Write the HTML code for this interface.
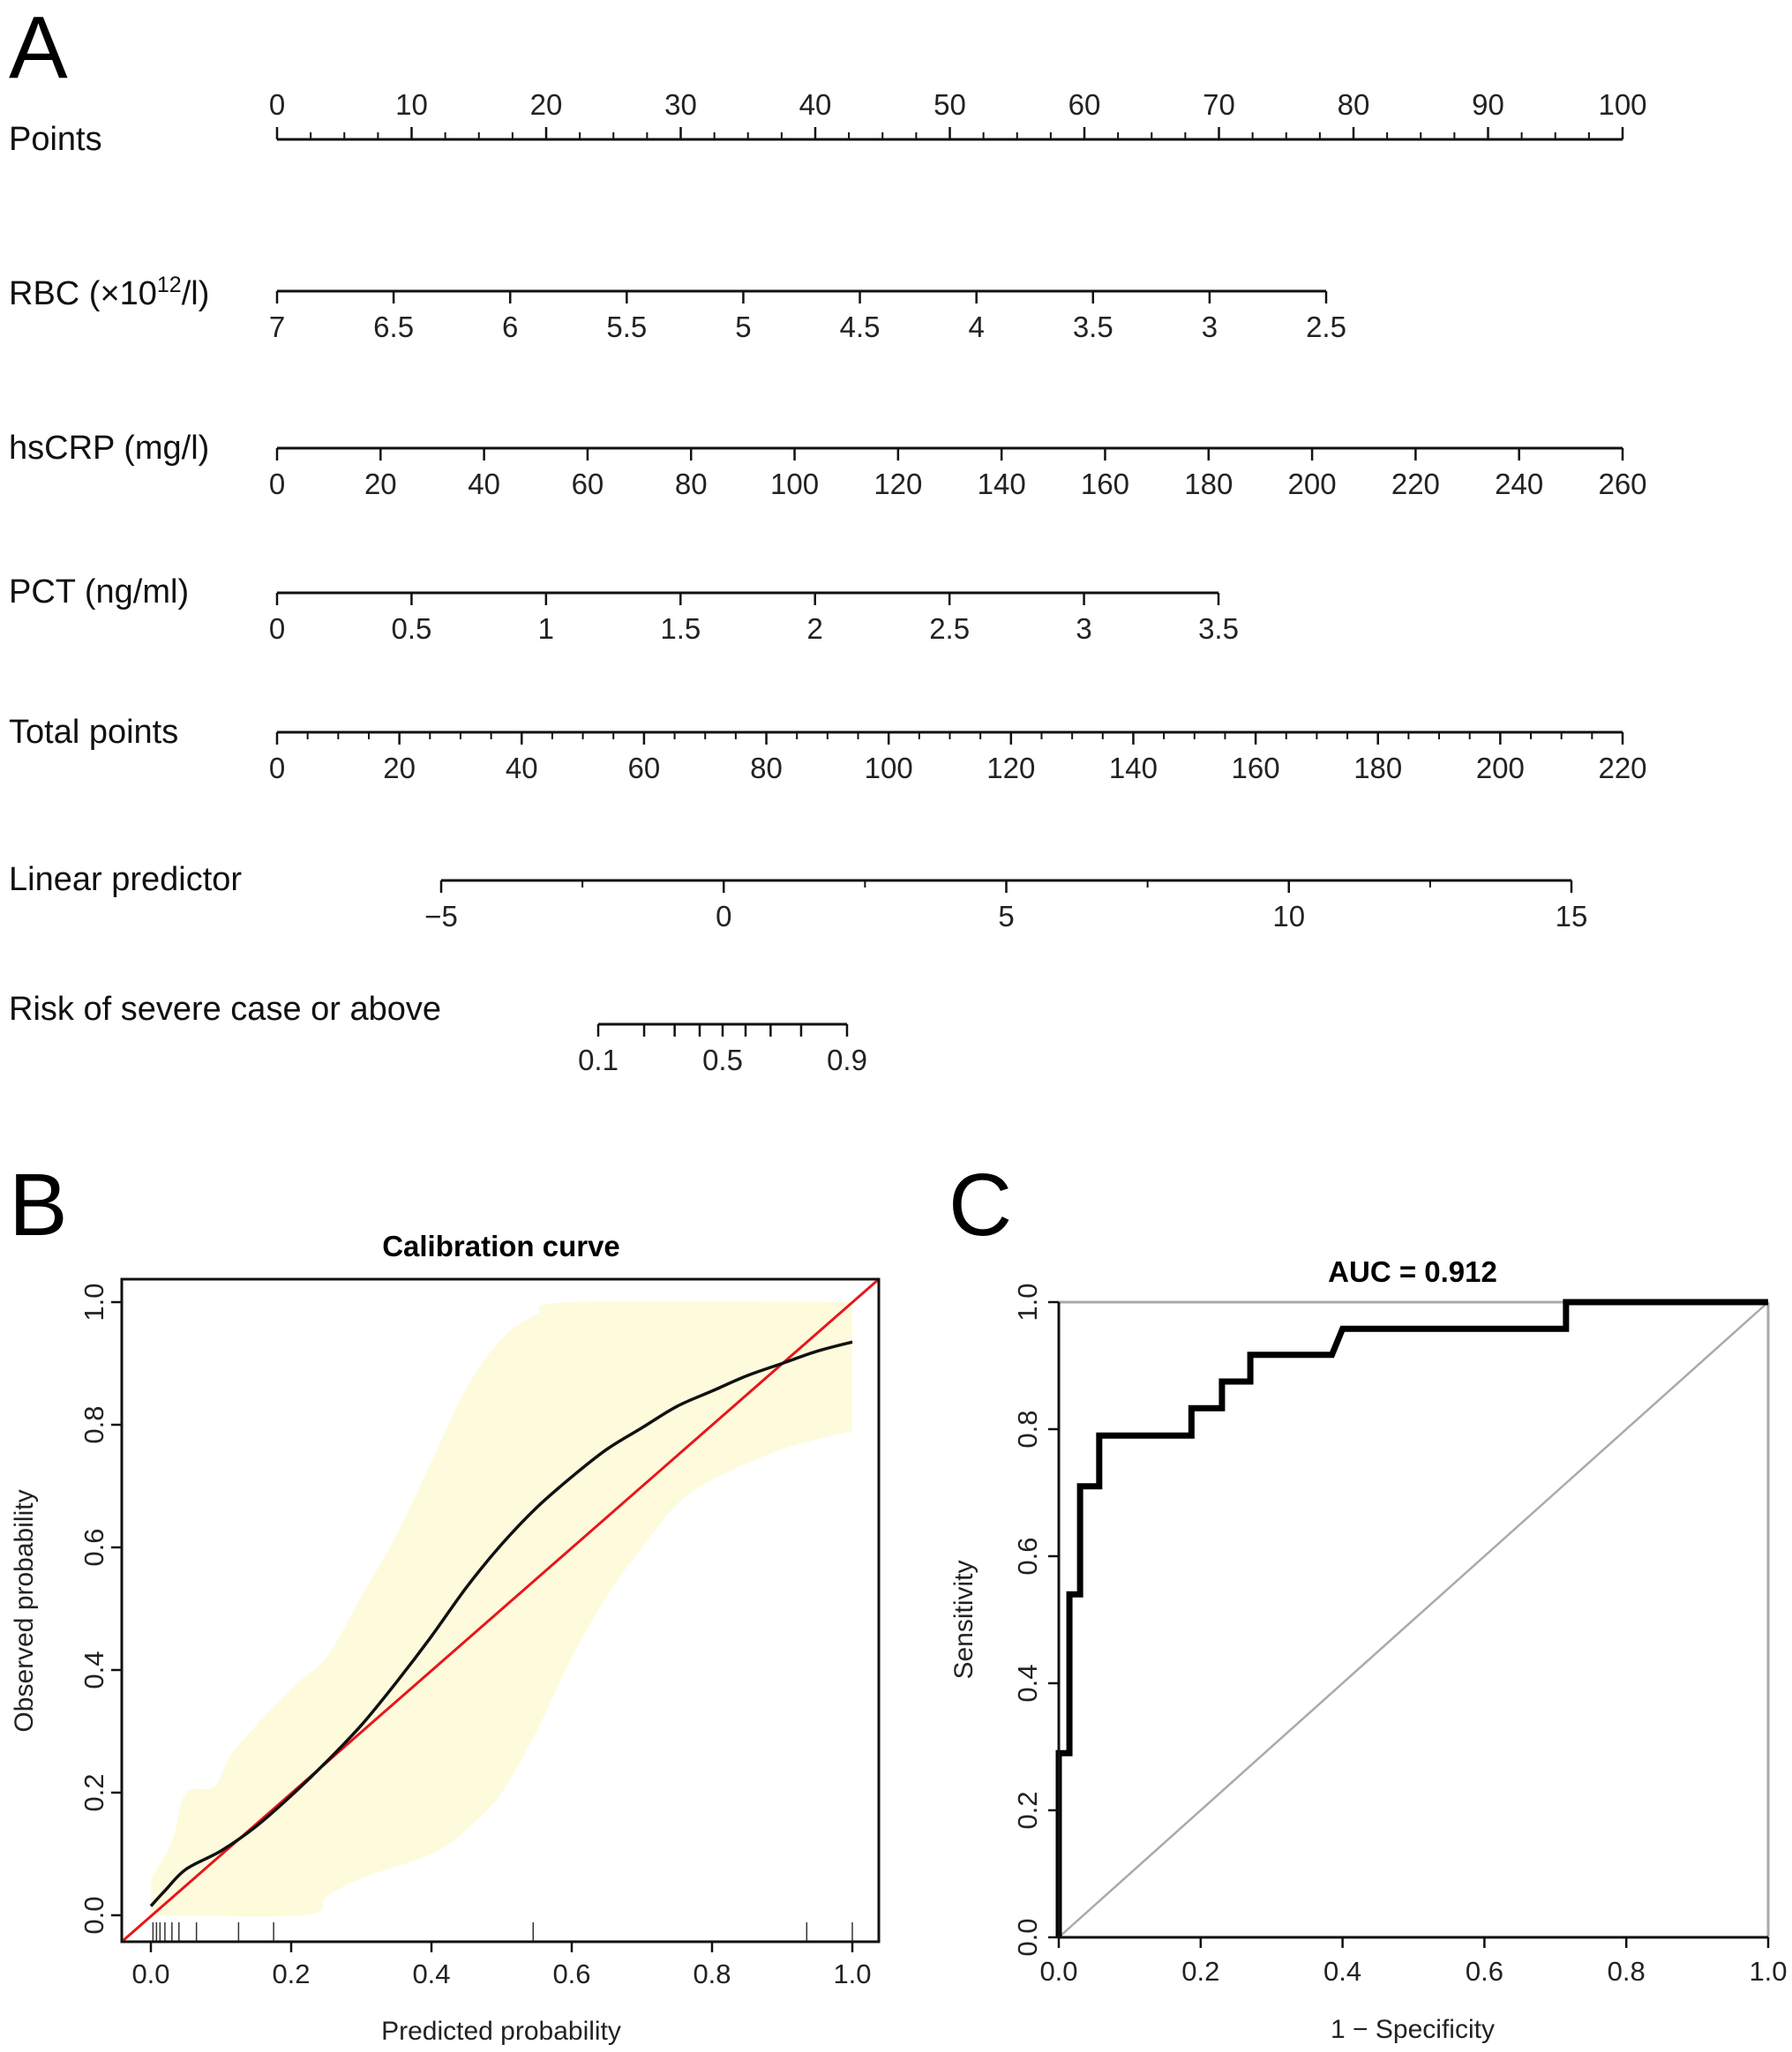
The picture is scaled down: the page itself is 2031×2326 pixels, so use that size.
<!DOCTYPE html>
<html><head><meta charset="utf-8"><style>
html,body{margin:0;padding:0;background:#fff}
svg{display:block;font-family:"Liberation Sans",Arial,sans-serif}
</style></head><body>
<svg id="fig" width="2031" height="2326" viewBox="0 0 2031 2326">
<text x="10" y="88" font-size="100">A</text>
<text x="10" y="1400" font-size="100">B</text>
<text x="1075" y="1400" font-size="100">C</text>
<g id="nomo"></g>
<g id="calib"></g>
<g id="roc"></g>
</svg>
<script>
// ---------- Nomogram data ----------
const pointsTicks=[0,10,20,30,40,50,60,70,80,90,100];
const rbcTicks=[7,6.5,6,5.5,5,4.5,4,3.5,3,2.5];
const crpTicks=[0,20,40,60,80,100,120,140,160,180,200,220,240,260];
const pctTicks=[0,0.5,1,1.5,2,2.5,3,3.5];
const totalTicks=[0,20,40,60,80,100,120,140,160,180,200,220];
const lpTicks=[-5,0,5,10,15];
const riskTicks=[0.1,0.2,0.3,0.4,0.5,0.6,0.7,0.8,0.9];
const riskLabels=["0.1","","","","0.5","","","","0.9"];
// ---------- Calibration data ----------
const calX=[0,0.02,0.05,0.1,0.15,0.2,0.25,0.3,0.35,0.4,0.45,0.5,0.55,0.6,0.65,0.7,0.75,0.8,0.85,0.9,0.95,1.0];
const calY=[0.015,0.04,0.075,0.105,0.145,0.195,0.25,0.31,0.38,0.455,0.535,0.605,0.665,0.715,0.76,0.795,0.83,0.855,0.88,0.9,0.92,0.935];
const bandUpX=[0,0.03,0.05,0.09,0.12,0.2,0.25,0.3,0.35,0.4,0.45,0.5,0.55,0.6,1.0];
const bandUpY=[0.06,0.12,0.2,0.21,0.27,0.37,0.42,0.52,0.62,0.74,0.86,0.94,0.98,1.0,1.0];
const bandLoX=[0,0.22,0.25,0.3,0.4,0.45,0.5,0.55,0.6,0.65,0.7,0.75,0.8,0.9,1.0];
const bandLoY=[0,0,0.03,0.06,0.1,0.14,0.2,0.3,0.42,0.52,0.6,0.67,0.71,0.76,0.79];
const rugX=[0.003,0.008,0.013,0.02,0.03,0.04,0.065,0.125,0.175,0.545,0.935,1.0];
const axisTicks=[0,0.2,0.4,0.6,0.8,1.0];
const axisLabels=["0.0","0.2","0.4","0.6","0.8","1.0"];
// ---------- ROC data ----------
const rocFpr=[0,0,0.015,0.015,0.03,0.03,0.057,0.057,0.187,0.187,0.23,0.23,0.27,0.27,0.385,0.4,0.715,0.715,1];
const rocTpr=[0,0.29,0.29,0.54,0.54,0.71,0.71,0.79,0.79,0.833,0.833,0.875,0.875,0.917,0.917,0.958,0.958,1,1];

const NS="http://www.w3.org/2000/svg";
function mk(parent,tag,attrs,text){const e=document.createElementNS(NS,tag);for(const k in attrs)e.setAttribute(k,attrs[k]);if(text!==undefined)e.textContent=text;parent.appendChild(e);return e;}
function smooth(pts){let d='M'+pts[0][0]+','+pts[0][1];
  for(let i=0;i<pts.length-1;i++){const p0=pts[Math.max(0,i-1)],p1=pts[i],p2=pts[i+1],p3=pts[Math.min(pts.length-1,i+2)];
    const c1=[p1[0]+(p2[0]-p0[0])/6,p1[1]+(p2[1]-p0[1])/6],c2=[p2[0]-(p3[0]-p1[0])/6,p2[1]-(p3[1]-p1[1])/6];
    d+=` C${c1[0]},${c1[1]} ${c2[0]},${c2[1]} ${p2[0]},${p2[1]}`;}
  return d;}

// ---------- Nomogram ----------
const nomo=document.getElementById('nomo');
function scaleAxis(title,ty,y,ticks,labels,x0,x1,v0,v1,up,minorStep,mapFn){
  const f=mapFn||(v=>v);
  const sx=v=>x0+(f(v)-f(v0))/(f(v1)-f(v0))*(x1-x0);
  const g=mk(nomo,'g',{});
  
  
  const t=mk(g,'text',{x:10,y:ty,'font-size':38,fill:'#111'});
  if(title.startsWith('RBC')){t.textContent='RBC (×10';mk(t,'tspan',{'font-size':25,dy:-14},'12');mk(t,'tspan',{dy:14},'/l)');}
  else t.textContent=title;
  
  
  mk(g,'line',{x1:sx(v0),x2:sx(v1),y1:y,y2:y,stroke:'#111','stroke-width':3});
  const d=up?-1:1;
  if(minorStep){
    const lo=Math.min(v0,v1),hi=Math.max(v0,v1);
    for(let v=lo;v<=hi+1e-9;v+=minorStep){const x=sx(v);mk(g,'line',{x1:x,x2:x,y1:y,y2:y+d*8,stroke:'#111','stroke-width':2});}
  }
  ticks.forEach((v,i)=>{const x=sx(v);
    mk(g,'line',{x1:x,x2:x,y1:y,y2:y+d*14,stroke:'#111','stroke-width':2.5});
    const lab=labels?labels[i]:String(v).replace('-','−');
    if(lab){const tx=mk(g,'text',{x:x,y:up?y-28:y+52,'font-size':33,'text-anchor':'middle',fill:'#222'},lab);
      
      }
  });
}
scaleAxis('Points',170,158,pointsTicks,null,314,1839,0,100,true,2.5);
scaleAxis('RBC',345,330,rbcTicks,null,314,1503,7,2.5,false,null);
scaleAxis('hsCRP (mg/l)',520,508,crpTicks,null,314,1839,0,260,false,null);
scaleAxis('PCT (ng/ml)',683,672,pctTicks,null,314,1381,0,3.5,false,null);
scaleAxis('Total points',842,830,totalTicks,null,314,1839,0,220,false,5);
scaleAxis('Linear predictor',1009,998,lpTicks,lpTicks.map(v=>String(v).replace('-','−')),500,1781,-5,15,false,2.5);
scaleAxis('Risk of severe case or above',1156,1161,riskTicks,riskLabels,678,960,0.1,0.9,false,null,p=>Math.log(p/(1-p)));

// ---------- Calibration ----------
const cal=document.getElementById('calib');
const cx=v=>171+v*(966-171), cy=v=>2171-v*(2171-1476);
const bx0=138,bx1=996,by0=1450,by1=2201;
const upPts=bandUpX.map((x,i)=>[cx(x),cy(bandUpY[i])]);
const loPts=bandLoX.map((x,i)=>[cx(x),cy(bandLoY[i])]).reverse();
let bd=smooth(upPts)+' L'+loPts[0][0]+','+loPts[0][1]+smooth(loPts).replace(/^M[^C]*/,' ')+' Z';
let band=mk(cal,'path',{d:bd,fill:'#fdfbdc'});


let diag=mk(cal,'line',{x1:bx0,y1:by1,x2:bx1,y2:by0,stroke:'#e8161b','stroke-width':3});


let curve=mk(cal,'path',{d:smooth(calX.map((x,i)=>[cx(x),cy(calY[i])])),fill:'none',stroke:'#111','stroke-width':3.5,'stroke-linejoin':'round'});


rugX.forEach(v=>{const r=mk(cal,'line',{x1:cx(v),x2:cx(v),y1:by1,y2:by1-22,stroke:'#333','stroke-width':1.5});
  
  });
mk(cal,'rect',{x:bx0,y:by0,width:bx1-bx0,height:by1-by0,fill:'none',stroke:'#111','stroke-width':3});
axisTicks.forEach((v,i)=>{
  mk(cal,'line',{x1:cx(v),x2:cx(v),y1:by1,y2:by1+12,stroke:'#111','stroke-width':2.5});
  const t=mk(cal,'text',{x:cx(v),y:2248,'font-size':31,'text-anchor':'middle',fill:'#222'},axisLabels[i]);
  
  
  mk(cal,'line',{x1:bx0,x2:bx0-12,y1:cy(v),y2:cy(v),stroke:'#111','stroke-width':2.5});
  const ty=mk(cal,'text',{x:117,y:cy(v),'font-size':31,'text-anchor':'middle',fill:'#222',transform:`rotate(-90 117 ${cy(v)})`},axisLabels[i]);
  
  
});
let ct=mk(cal,'text',{x:568,y:1424,'font-size':33,'font-weight':'bold','text-anchor':'middle'},'Calibration curve');

let cxt=mk(cal,'text',{x:568,y:2312,'font-size':30,'text-anchor':'middle',fill:'#222'},'Predicted probability');

let cyt=mk(cal,'text',{x:37,y:1826,'font-size':30,'text-anchor':'middle',fill:'#222',transform:'rotate(-90 37 1826)'},'Observed probability');


// ---------- ROC ----------
const roc=document.getElementById('roc');
const rx=v=>1200+v*(2004-1200), ry=v=>2196-v*(2196-1476);
mk(roc,'line',{x1:rx(0),y1:ry(1),x2:rx(1),y2:ry(1),stroke:'#aaa','stroke-width':3});
mk(roc,'line',{x1:rx(1),y1:ry(0),x2:rx(1),y2:ry(1),stroke:'#aaa','stroke-width':3});
let rd=mk(roc,'line',{x1:rx(0),y1:ry(0),x2:rx(1),y2:ry(1),stroke:'#aaa','stroke-width':2.5});

let rp=rocFpr.map((x,i)=>rx(x)+','+ry(rocTpr[i])).join(' ');
let rl=mk(roc,'polyline',{points:rp,fill:'none',stroke:'#000','stroke-width':7,'stroke-linejoin':'miter'});

mk(roc,'line',{x1:rx(0),y1:ry(0)+1,x2:rx(0),y2:ry(1),stroke:'#111','stroke-width':3});
mk(roc,'line',{x1:rx(0),y1:ry(0),x2:rx(1),y2:ry(0),stroke:'#111','stroke-width':3});
axisTicks.forEach((v,i)=>{
  mk(roc,'line',{x1:rx(v),x2:rx(v),y1:ry(0),y2:ry(0)+12,stroke:'#111','stroke-width':2.5});
  const t=mk(roc,'text',{x:rx(v),y:2245,'font-size':31,'text-anchor':'middle',fill:'#222'},axisLabels[i]);
  
  
  mk(roc,'line',{x1:rx(0),x2:rx(0)-12,y1:ry(v),y2:ry(v),stroke:'#111','stroke-width':2.5});
  const ty=mk(roc,'text',{x:1175,y:ry(v),'font-size':31,'text-anchor':'middle',fill:'#222',transform:`rotate(-90 1175 ${ry(v)})`},axisLabels[i]);
  
  
});
let rt=mk(roc,'text',{x:1601,y:1453,'font-size':33,'font-weight':'bold','text-anchor':'middle'},'AUC = 0.912');

let rxt=mk(roc,'text',{x:1601,y:2310,'font-size':30,'text-anchor':'middle',fill:'#222'},'1 − Specificity');

let ryt=mk(roc,'text',{x:1102,y:1836,'font-size':30,'text-anchor':'middle',fill:'#222',transform:'rotate(-90 1102 1836)'},'Sensitivity');

</script>
</body></html>
